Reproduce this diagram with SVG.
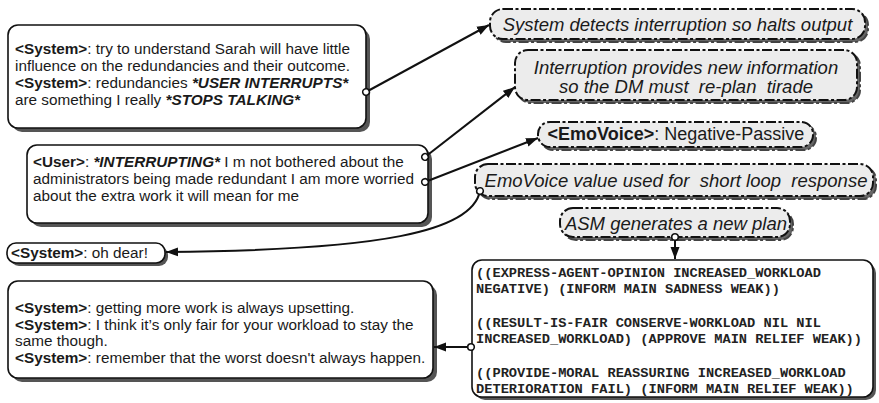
<svg xmlns="http://www.w3.org/2000/svg" width="879" height="403" viewBox="0 0 879 403">
<defs>
<style>
.sbox{fill:#fff;stroke:#111;stroke-width:1.6}
.sshadow{fill:#555;stroke:none}
.dbox{fill:#ececec;stroke:#111;stroke-width:2;stroke-dasharray:10 2.5 3 2.5}
.dshadow{fill:#666;stroke:#444;stroke-width:2;stroke-dasharray:10 2.5 3 2.5}
.t{font-family:"Liberation Sans",Arial,sans-serif;font-size:15.3px;fill:#1a1a1a}
.b{font-weight:bold}
.bi{font-weight:bold;font-style:italic}
.it{font-family:"Liberation Sans",Arial,sans-serif;font-size:18.5px;font-style:italic;fill:#1a1a1a;white-space:pre}
.r{font-family:"Liberation Sans",Arial,sans-serif;font-size:18px;fill:#1a1a1a}
.m{font-family:"Liberation Mono","Courier New",monospace;font-weight:bold;font-size:13.7px;fill:#222}
.c{fill:none;stroke:#111;stroke-width:2}
</style>
<marker id="ah" markerUnits="userSpaceOnUse" markerWidth="14" markerHeight="10" refX="12" refY="5" orient="auto">
<path d="M0,0.5 L12,5 L0,9.5 Z" fill="#111"/>
</marker>
<marker id="dot" markerUnits="userSpaceOnUse" markerWidth="10" markerHeight="10" refX="5" refY="5" orient="auto">
<circle cx="5" cy="5" r="3.3" fill="#fff" stroke="#111" stroke-width="1.6"/>
</marker>
</defs>

<g id="sys1">
<rect class="sshadow" x="12" y="29" width="358" height="103" rx="10"/>
<rect class="sbox" x="8" y="25" width="358" height="103" rx="10"/>
<text class="t" x="15" y="54"><tspan class="b">&lt;System&gt;</tspan>: try to understand Sarah will have little</text>
<text class="t" x="15" y="71">influence on the redundancies and their outcome.</text>
<text class="t" x="15" y="88"><tspan class="b">&lt;System&gt;</tspan>: redundancies <tspan class="bi">*USER INTERRUPTS*</tspan></text>
<text class="t" x="15" y="105">are something I really <tspan class="bi">*STOPS TALKING*</tspan></text>
</g>

<g id="user">
<rect class="sshadow" x="31" y="149" width="401" height="78" rx="10"/>
<rect class="sbox" x="27" y="145" width="401" height="78" rx="10"/>
<text class="t" x="33" y="167"><tspan class="b">&lt;User&gt;</tspan>: <tspan class="bi">*INTERRUPTING*</tspan> I m not bothered about the</text>
<text class="t" x="33" y="184">administrators being made redundant I am more worried</text>
<text class="t" x="33" y="201">about the extra work it will mean for me</text>
</g>

<g id="ohdear">
<rect class="sshadow" x="10" y="246" width="158" height="20" rx="9"/>
<rect class="sbox" x="7" y="243" width="158" height="20" rx="9"/>
<text class="t" x="11" y="258"><tspan class="b">&lt;System&gt;</tspan>: oh dear!</text>
</g>

<g id="sys2">
<rect class="sshadow" x="12" y="285" width="425" height="97" rx="10"/>
<rect class="sbox" x="8" y="281" width="425" height="97" rx="10"/>
<text class="t" x="15" y="313"><tspan class="b">&lt;System&gt;</tspan>: getting more work is always upsetting.</text>
<text class="t" x="15" y="330"><tspan class="b">&lt;System&gt;</tspan>: I think it’s only fair for your workload to stay the</text>
<text class="t" x="15" y="346">same though.</text>
<text class="t" x="15" y="363"><tspan class="b">&lt;System&gt;</tspan>: remember that the worst doesn't always happen.</text>
</g>

<g id="plan">
<rect class="sshadow" x="475" y="263" width="401" height="137" rx="10"/>
<rect class="sbox" x="472" y="260" width="401" height="137" rx="10"/>
<text class="m" x="476" y="277">((EXPRESS-AGENT-OPINION INCREASED_WORKLOAD</text>
<text class="m" x="476" y="293">NEGATIVE) (INFORM MAIN SADNESS WEAK))</text>
<text class="m" x="476" y="327">((RESULT-IS-FAIR CONSERVE-WORKLOAD NIL NIL</text>
<text class="m" x="476" y="343">INCREASED_WORKLOAD) (APPROVE MAIN RELIEF WEAK))</text>
<text class="m" x="476" y="377">((PROVIDE-MORAL REASSURING INCREASED_WORKLOAD</text>
<text class="m" x="476" y="393">DETERIORATION FAIL) (INFORM MAIN RELIEF WEAK))</text>
</g>

<g id="detect">
<rect class="dshadow" x="493" y="12" width="375" height="30" rx="13"/>
<rect class="dbox" x="490" y="9" width="375" height="30" rx="13"/>
<text class="it" x="677.5" y="31" text-anchor="middle">System detects interruption so halts output</text>
</g>

<g id="replan">
<rect class="dshadow" x="518" y="53" width="342" height="50" rx="13"/>
<rect class="dbox" x="515" y="50" width="342" height="50" rx="13"/>
<text class="it" x="686" y="74" text-anchor="middle">Interruption provides new information</text>
<text class="it" x="686" y="93" text-anchor="middle">so the DM must  re-plan  tirade</text>
</g>

<g id="emovoice">
<rect class="dshadow" x="541" y="125" width="275" height="25" rx="12"/>
<rect class="dbox" x="538" y="122" width="275" height="25" rx="12"/>
<text class="r" x="676" y="140" text-anchor="middle"><tspan class="b">&lt;EmoVoice&gt;</tspan>: Negative-Passive</text>
</g>

<g id="shortloop">
<rect class="dshadow" x="478" y="167" width="398" height="32" rx="13"/>
<rect class="dbox" x="475" y="164" width="398" height="32" rx="13"/>
<text class="it" x="676" y="187" text-anchor="middle">EmoVoice value used for  short loop  response</text>
</g>

<g id="asm">
<rect class="dshadow" x="563" y="211" width="230" height="29" rx="13"/>
<rect class="dbox" x="560" y="208" width="230" height="29" rx="13"/>
<text class="it" x="676" y="230" text-anchor="middle">ASM generates a new plan</text>
</g>

<g id="connectors">
<path class="c" d="M366,92 L489,25" marker-start="url(#dot)" marker-end="url(#ah)"/>
<path class="c" d="M425,157 L515,87" marker-start="url(#dot)" marker-end="url(#ah)"/>
<path class="c" d="M425,182 L538,138" marker-start="url(#dot)" marker-end="url(#ah)"/>
<path class="c" d="M480,191 C472,232 380,250 166,252" marker-start="url(#dot)" marker-end="url(#ah)"/>
<path class="c" d="M675,237 L675,259" marker-start="url(#dot)" marker-end="url(#ah)"/>
<path class="c" d="M471,347 L434,347" marker-start="url(#dot)" marker-end="url(#ah)"/>
</g>
</svg>
